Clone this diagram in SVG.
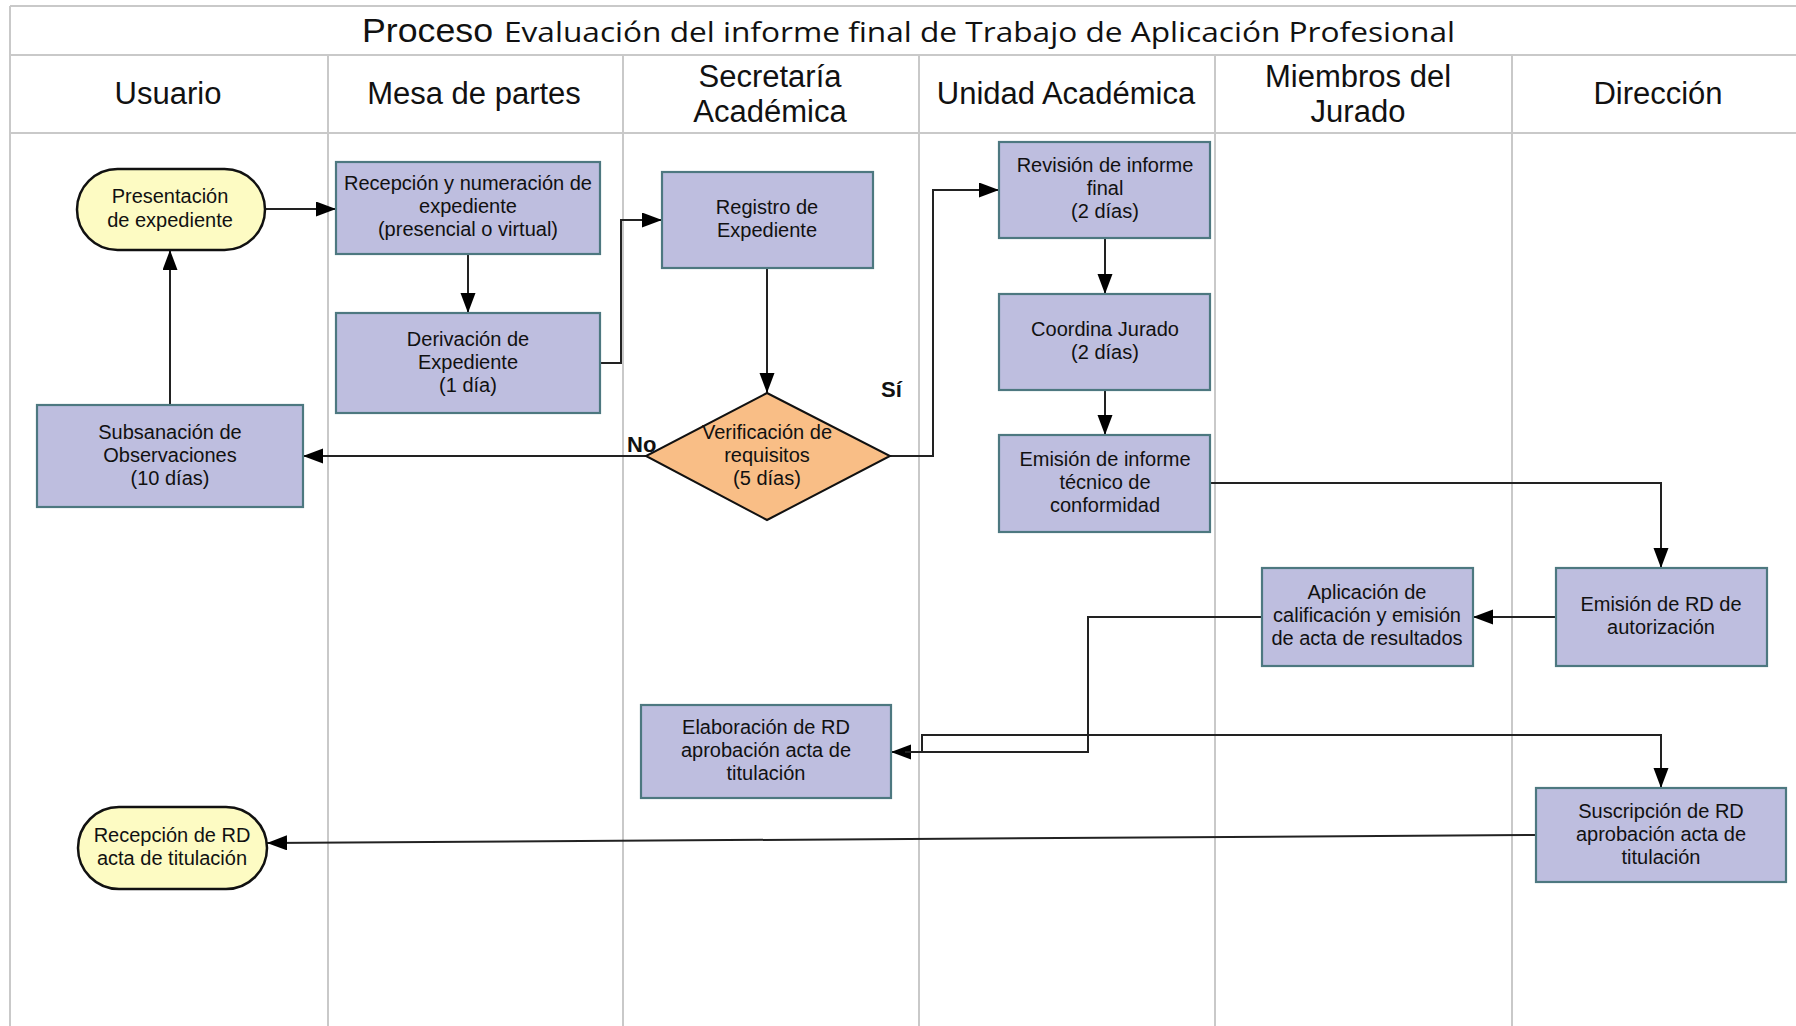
<svg xmlns="http://www.w3.org/2000/svg" width="1796" height="1026" viewBox="0 0 1796 1026">
<style>
.grid{stroke:#c9c9c9;stroke-width:2;fill:none}
.hdr{font-family:"Liberation Sans",Arial,sans-serif;font-size:31px;fill:#111;text-anchor:middle}
.t{font-family:"Liberation Sans",Arial,sans-serif;font-size:20px;fill:#111;text-anchor:middle}
.box{fill:#bebedf;stroke:#4d7880;stroke-width:2.2}
.term{fill:#fdfbc3;stroke:#111;stroke-width:2.5}
.dec{fill:#f9be86;stroke:#111;stroke-width:2}
.con{fill:none;stroke:#222;stroke-width:2}
.lbl{font-family:"Liberation Sans",Arial,sans-serif;font-size:22px;font-weight:bold;fill:#111}
</style>
<defs>
<marker id="ah" markerUnits="userSpaceOnUse" markerWidth="21" markerHeight="16" refX="20" refY="7.5" orient="auto">
<path d="M0,0 L20,7.5 L0,15 z" fill="#000"/>
</marker>
</defs>
<rect x="0" y="0" width="1796" height="1026" fill="#fff"/>
<g id="frame">
<line class="grid" x1="10" y1="6" x2="1796" y2="6"/>
<line class="grid" x1="10" y1="55" x2="1796" y2="55"/>
<line class="grid" x1="10" y1="133" x2="1796" y2="133"/>
<line class="grid" x1="10" y1="6" x2="10" y2="1026"/>
<line class="grid" x1="328" y1="55" x2="328" y2="1026"/>
<line class="grid" x1="623" y1="55" x2="623" y2="1026"/>
<line class="grid" x1="919" y1="55" x2="919" y2="1026"/>
<line class="grid" x1="1215" y1="55" x2="1215" y2="1026"/>
<line class="grid" x1="1512" y1="55" x2="1512" y2="1026"/>
</g>
<g id="title">
<text x="362" y="42" font-family="Liberation Sans,Arial,sans-serif" font-size="33" fill="#111" textLength="131" lengthAdjust="spacingAndGlyphs">Proceso</text>
<text x="504" y="42" font-family="Open Sans,Liberation Sans,sans-serif" font-size="28" fill="#111" textLength="951" lengthAdjust="spacingAndGlyphs">Evaluación del informe final de Trabajo de Aplicación Profesional</text>
</g>
<g id="lanes">
<text class="hdr" x="168" y="104">Usuario</text>
<text class="hdr" x="474" y="104">Mesa de partes</text>
<text class="hdr" x="770" y="87">Secretaría</text>
<text class="hdr" x="770" y="122">Académica</text>
<text class="hdr" x="1066" y="104">Unidad Académica</text>
<text class="hdr" x="1358" y="87">Miembros del</text>
<text class="hdr" x="1358" y="122">Jurado</text>
<text class="hdr" x="1658" y="104">Dirección</text>
</g>
<g id="connectors">
<path class="con" d="M265,209 H336" marker-end="url(#ah)"/>
<path class="con" d="M468,254 V313" marker-end="url(#ah)"/>
<path class="con" d="M600,363 H621 V220 H662" marker-end="url(#ah)"/>
<path class="con" d="M767,268 V393" marker-end="url(#ah)"/>
<path class="con" d="M646,456 H303" marker-end="url(#ah)"/>
<path class="con" d="M890,456 H933 V190 H999" marker-end="url(#ah)"/>
<path class="con" d="M170,405 V250" marker-end="url(#ah)"/>
<path class="con" d="M1105,238 V294" marker-end="url(#ah)"/>
<path class="con" d="M1105,390 V435" marker-end="url(#ah)"/>
<path class="con" d="M1211,483 H1661 V568" marker-end="url(#ah)"/>
<path class="con" d="M1556,617 H1473" marker-end="url(#ah)"/>
<path class="con" d="M1262,617 H1088 V752 H891" marker-end="url(#ah)"/>
<path class="con" d="M905,752 H922 V735 H1661 V788" marker-end="url(#ah)"/>
<path class="con" d="M1536,835 L267,843" marker-end="url(#ah)"/>
<text class="lbl" x="627" y="452">No</text>
<text class="lbl" x="881" y="397">Sí</text>
</g>
<g id="n1">
<rect class="term" x="77" y="169" width="188" height="81" rx="40.5" ry="40.5"/>
<text class="t" x="170" y="203">Presentación</text>
<text class="t" x="170" y="227">de expediente</text>
</g>
<g id="n2">
<rect class="box" x="336" y="162" width="264" height="92"/>
<text class="t" x="468" y="190">Recepción y numeración de</text>
<text class="t" x="468" y="213">expediente</text>
<text class="t" x="468" y="236">(presencial o virtual)</text>
</g>
<g id="n3">
<rect class="box" x="336" y="313" width="264" height="100"/>
<text class="t" x="468" y="346">Derivación de</text>
<text class="t" x="468" y="369">Expediente</text>
<text class="t" x="468" y="392">(1 día)</text>
</g>
<g id="n4">
<rect class="box" x="37" y="405" width="266" height="102"/>
<text class="t" x="170" y="439">Subsanación de</text>
<text class="t" x="170" y="462">Observaciones</text>
<text class="t" x="170" y="485">(10 días)</text>
</g>
<g id="n5">
<rect class="box" x="662" y="172" width="211" height="96"/>
<text class="t" x="767" y="214">Registro de</text>
<text class="t" x="767" y="237">Expediente</text>
</g>
<g id="n6">
<polygon class="dec" points="767,393 890,456 767,520 646,456"/>
<text class="t" x="767" y="439">Verificación de</text>
<text class="t" x="767" y="462">requisitos</text>
<text class="t" x="767" y="485">(5 días)</text>
</g>
<g id="n7">
<rect class="box" x="999" y="142" width="211" height="96"/>
<text class="t" x="1105" y="172">Revisión de informe</text>
<text class="t" x="1105" y="195">final</text>
<text class="t" x="1105" y="218">(2 días)</text>
</g>
<g id="n8">
<rect class="box" x="999" y="294" width="211" height="96"/>
<text class="t" x="1105" y="336">Coordina Jurado</text>
<text class="t" x="1105" y="359">(2 días)</text>
</g>
<g id="n9">
<rect class="box" x="999" y="435" width="211" height="97"/>
<text class="t" x="1105" y="466">Emisión de informe</text>
<text class="t" x="1105" y="489">técnico de</text>
<text class="t" x="1105" y="512">conformidad</text>
</g>
<g id="n10">
<rect class="box" x="1556" y="568" width="211" height="98"/>
<text class="t" x="1661" y="611">Emisión de RD de</text>
<text class="t" x="1661" y="634">autorización</text>
</g>
<g id="n11">
<rect class="box" x="1262" y="568" width="211" height="98"/>
<text class="t" x="1367" y="599">Aplicación de</text>
<text class="t" x="1367" y="622">calificación y emisión</text>
<text class="t" x="1367" y="645">de acta de resultados</text>
</g>
<g id="n12">
<rect class="box" x="641" y="705" width="250" height="93"/>
<text class="t" x="766" y="734">Elaboración de RD</text>
<text class="t" x="766" y="757">aprobación acta de</text>
<text class="t" x="766" y="780">titulación</text>
</g>
<g id="n13">
<rect class="box" x="1536" y="788" width="250" height="94"/>
<text class="t" x="1661" y="818">Suscripción de RD</text>
<text class="t" x="1661" y="841">aprobación acta de</text>
<text class="t" x="1661" y="864">titulación</text>
</g>
<g id="n14">
<rect class="term" x="78" y="807" width="189" height="82" rx="41" ry="41"/>
<text class="t" x="172" y="842">Recepción de RD</text>
<text class="t" x="172" y="865">acta de titulación</text>
</g>
</svg>
